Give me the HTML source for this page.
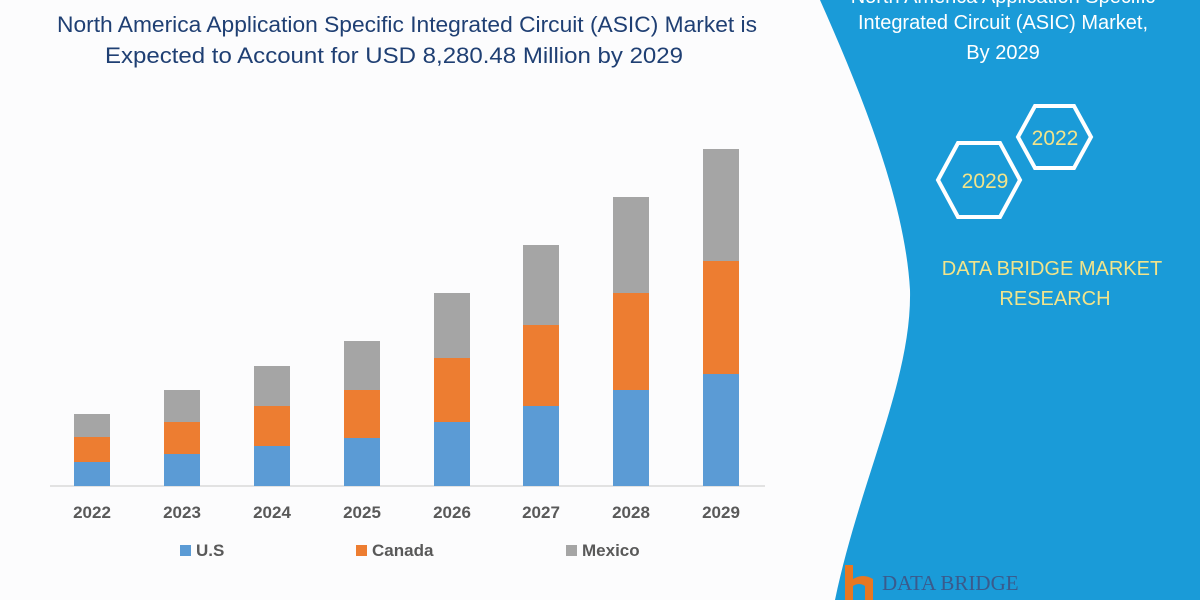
<!DOCTYPE html>
<html><head><meta charset="utf-8"><style>
body{margin:0;width:1200px;height:600px;overflow:hidden;background:#fff;font-family:"Liberation Sans",sans-serif;}
</style></head><body>
<svg width="1200" height="600" xmlns="http://www.w3.org/2000/svg" style="position:absolute;left:0;top:0">
<rect width="1200" height="600" fill="#fcfcfd"/>
<path d="M820,0 C860,90 905,200 910,290 C912,380 860,480 835,600 L1200,600 L1200,0 Z" fill="#1a9bd8"/>
<g fill="none" stroke="#fff" stroke-width="4">
<polygon points="938,180 958,143 1000,143 1020,180 1000,217 958,217"/>
<polygon points="1018,137 1035,106 1074,106 1091,137 1074,168 1035,168"/>
</g>
<g font-size="21" fill="#f2e48a" text-anchor="middle">
<text x="985" y="188">2029</text>
<text x="1055" y="145">2022</text>
<text x="1052" y="275" font-size="20">DATA BRIDGE MARKET</text>
<text x="1055" y="305" font-size="20">RESEARCH</text>
</g>
<g font-size="20" fill="#fff" text-anchor="middle">
<text x="1003" y="3">North America Application Specific</text>
<text x="1003" y="29">Integrated Circuit (ASIC) Market,</text>
<text x="1003" y="59">By 2029</text>
</g>
<g font-size="22.5" fill="#1f3f73" text-anchor="middle">
<text x="407" y="32" textLength="700" lengthAdjust="spacingAndGlyphs">North America Application Specific Integrated Circuit (ASIC) Market is</text>
<text x="394" y="63" textLength="578" lengthAdjust="spacingAndGlyphs">Expected to Account for USD 8,280.48 Million by 2029</text>
</g>
<line x1="50" y1="486" x2="765" y2="486" stroke="#d9d9d9" stroke-width="1.5"/>
<g id="bars"></g>
<g font-size="17" font-weight="bold" fill="#595959" text-anchor="middle">
<text x="92" y="518">2022</text><text x="182" y="518">2023</text><text x="272" y="518">2024</text><text x="362" y="518">2025</text>
<text x="452" y="518">2026</text><text x="541" y="518">2027</text><text x="631" y="518">2028</text><text x="721" y="518">2029</text>
</g>
<g font-size="17" font-weight="bold" fill="#595959">
<rect x="180" y="545" width="11" height="11" fill="#5b9bd5"/><text x="196" y="556">U.S</text>
<rect x="356" y="545" width="11" height="11" fill="#ed7d31"/><text x="372" y="556">Canada</text>
<rect x="566" y="545" width="11" height="11" fill="#a5a5a5"/><text x="582" y="556">Mexico</text>
</g>
<g fill="#e87722"><path d="M845,565 h8 v14 q10,-6 20,0 v21 h-8 v-14 q-6,-4 -12,0 v14 h-8 Z"/></g>
<text x="882" y="590" font-size="21" fill="#3a5a8c" font-family="Liberation Serif,serif">DATA BRIDGE</text>
</svg>
<script>
var d=[[92,414,437,462],[182,390,422,454],[272,366,406,446],[362,341,390,438],[452,293,358,422],[541,245,325,406],[631,197,293,390],[721,149,261,374]];
var s='';d.forEach(function(b){var x=b[0]-18;
s+='<rect x="'+x+'" y="'+b[1]+'" width="36" height="'+(b[2]-b[1])+'" fill="#a5a5a5"/>';
s+='<rect x="'+x+'" y="'+b[2]+'" width="36" height="'+(b[3]-b[2])+'" fill="#ed7d31"/>';
s+='<rect x="'+x+'" y="'+b[3]+'" width="36" height="'+(486-b[3])+'" fill="#5b9bd5"/>';});
document.getElementById('bars').innerHTML=s;
</script>
</body></html>
